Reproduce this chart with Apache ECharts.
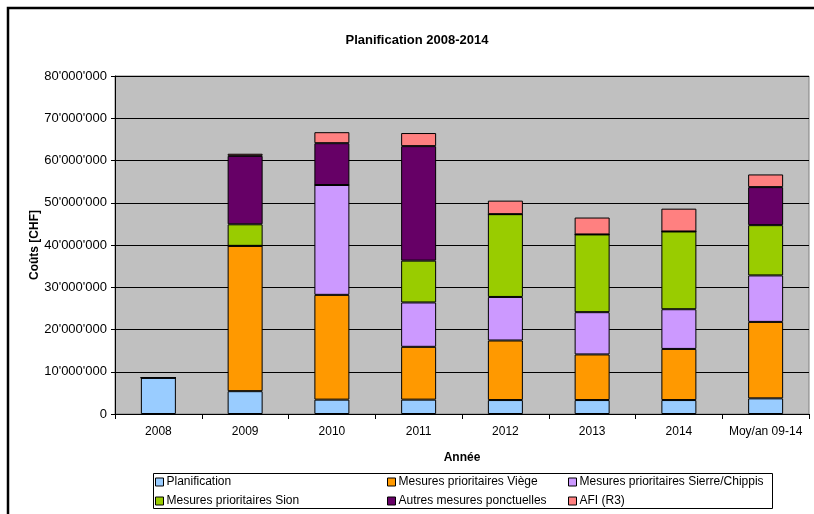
<!DOCTYPE html>
<html>
<head>
<meta charset="utf-8">
<title>Planification 2008-2014</title>
<script src="https://cdn.jsdelivr.net/npm/echarts@6/dist/echarts.min.js"></script>
<style>
  html, body { margin: 0; padding: 0; background: #fff; }
  #chart { width: 814px; height: 514px; }
</style>
</head>
<body>
<div id="chart"></div>
<script>
// categories
const years = ['2008', '2009', '2010', '2011', '2012', '2013', '2014', 'Moy/an 09-14']

// values in CHF
const planification = [8600000, 5400000, 3400000, 3400000, 3300000, 3300000, 3300000, 3700000]
const viege = [0, 34400000, 24800000, 12500000, 14100000, 10800000, 12100000, 18100000]
const sierreChippis = [0, 0, 26000000, 10500000, 10300000, 10000000, 9400000, 11000000]
const sion = [0, 5100000, 0, 9900000, 19600000, 18400000, 18400000, 11900000]
const autres = [0, 16200000, 9900000, 27100000, 0, 0, 0, 9000000]
const afi = [0, 500000, 2600000, 3100000, 3200000, 4000000, 5400000, 3000000]

const seriesDefs = [
  { name: 'Planification', data: planification, color: '#99CCFF' },
  { name: 'Mesures prioritaires Viège', data: viege, color: '#FF9900' },
  { name: 'Mesures prioritaires Sierre/Chippis', data: sierreChippis, color: '#CC99FF' },
  { name: 'Mesures prioritaires Sion', data: sion, color: '#99CC00' },
  { name: 'Autres mesures ponctuelles', data: autres, color: '#660066' },
  { name: 'AFI (R3)', data: afi, color: '#FF8080' }
]

const font = 'Liberation Sans, Arial, sans-serif'

function fmt(v) {
  return String(v).replace(/\B(?=(\d{3})+(?!\d))/g, "'")
}

function legendCol(names, left) {
  return {
    data: names,
    orient: 'vertical',
    left: left,
    top: 476,
    padding: 0,
    itemGap: 7,
    itemWidth: 8,
    itemHeight: 8,
    icon: 'rect',
    selectedMode: false,
    itemStyle: { borderColor: '#000', borderWidth: 1 },
    textStyle: { fontFamily: font, fontSize: 12, color: '#000', padding: [0, 0, 0, -2] }
  }
}

const chart = echarts.init(document.getElementById('chart'), null, { renderer: 'canvas' })
chart.setOption({
  animation: false,
  backgroundColor: '#fff',
  title: {
    text: 'Planification 2008-2014',
    left: 412,
    top: 29,
    textAlign: 'center',
    textStyle: { fontFamily: font, fontSize: 13, fontWeight: 'bold', color: '#000' }
  },
  grid: {
    left: 115,
    right: 5,
    top: 76,
    bottom: 100,
    show: true,
    backgroundColor: '#C0C0C0',
    borderColor: '#808080',
    borderWidth: 1
  },
  legend: [
    legendCol(['Planification', 'Mesures prioritaires Sion'], 155),
    legendCol(['Mesures prioritaires Viège', 'Autres mesures ponctuelles'], 387),
    legendCol(['Mesures prioritaires Sierre/Chippis', 'AFI (R3)'], 568)
  ],
  xAxis: {
    type: 'category',
    data: years,
    name: 'Année',
    nameLocation: 'middle',
    nameGap: 38,
    nameTextStyle: { fontFamily: font, fontSize: 12, fontWeight: 'bold', color: '#000' },
    axisLine: { lineStyle: { color: '#000', width: 1 } },
    axisTick: { show: true, length: 5, lineStyle: { color: '#000' } },
    axisLabel: { interval: 0, fontFamily: font, fontSize: 12, color: '#000', margin: 12 }
  },
  yAxis: {
    type: 'value',
    min: 0,
    max: 80000000,
    interval: 10000000,
    name: 'Coûts [CHF]',
    nameLocation: 'middle',
    nameGap: 74,
    nameMoveOverlap: false,
    nameTextStyle: { fontFamily: font, fontSize: 12, fontWeight: 'bold', color: '#000' },
    axisLine: { show: true, lineStyle: { color: '#000', width: 1 } },
    axisTick: { show: true, length: 4, lineStyle: { color: '#000' } },
    axisLabel: { fontFamily: font, fontSize: 13, color: '#000', margin: 8, formatter: fmt },
    splitLine: { lineStyle: { color: '#000', width: 1 } }
  },
  series: seriesDefs.map(s => ({
    name: s.name,
    type: 'bar',
    stack: 'total',
    barWidth: 35,
    data: s.data,
    itemStyle: { color: s.color, borderColor: '#000', borderWidth: 1 }
  })),
  graphic: [
    {
      type: 'rect',
      shape: { x: 8, y: 8, width: 830, height: 530 },
      style: { fill: 'none', stroke: '#000', lineWidth: 2.5 },
      silent: true
    },
    {
      type: 'rect',
      shape: { x: 153.5, y: 473.5, width: 619, height: 35 },
      style: { fill: 'none', stroke: '#000', lineWidth: 1 },
      silent: true,
      z: -1
    }
  ]
})
</script>
</body>
</html>
